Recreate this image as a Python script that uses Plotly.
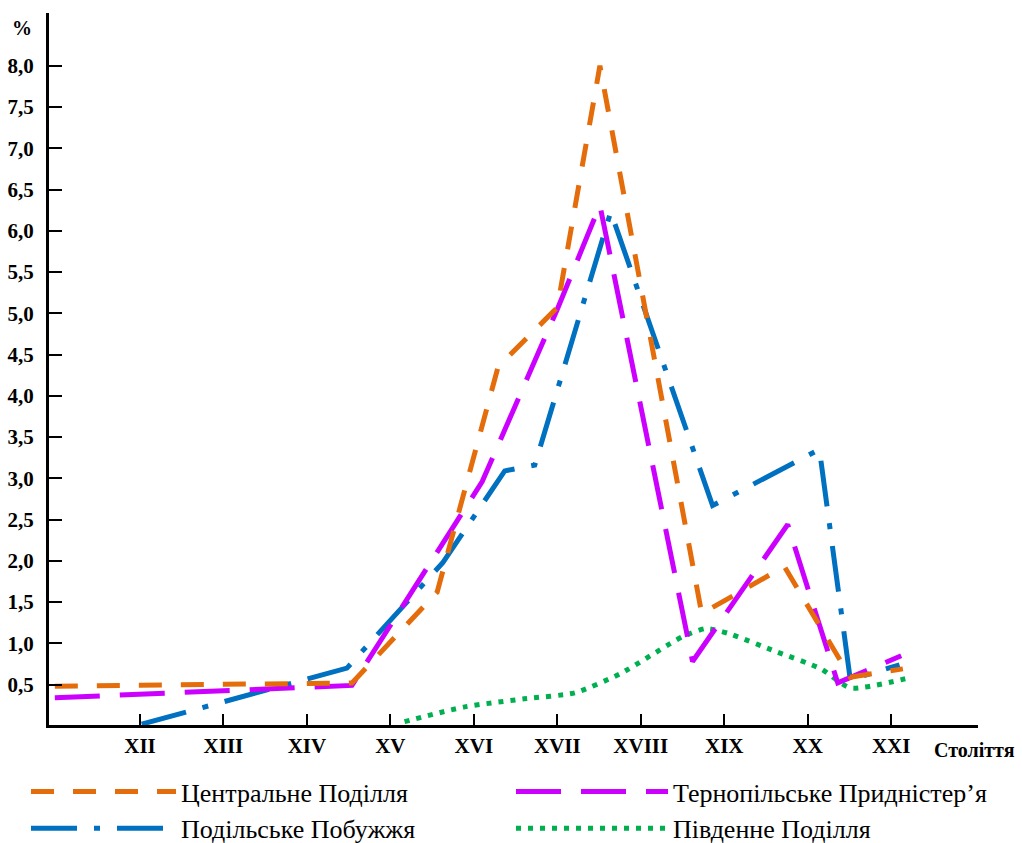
import plotly.graph_objects as go

# ---- data ----
centuries_ticks = [12, 13, 14, 15, 16, 17, 18, 19, 20, 21]
century_labels = ["XII", "XIII", "XIV", "XV", "XVI", "XVII", "XVIII", "XIX", "XX", "XXI"]
y_ticks = [0.5, 1.0, 1.5, 2.0, 2.5, 3.0, 3.5, 4.0, 4.5, 5.0, 5.5, 6.0, 6.5, 7.0, 7.5, 8.0]
y_tick_labels = ["0,5", "1,0", "1,5", "2,0", "2,5", "3,0", "3,5", "4,0", "4,5", "5,0",
                 "5,5", "6,0", "6,5", "7,0", "7,5", "8,0"]

central_x = [10.98, 14.54, 15.56, 16.29, 17.0, 17.51, 18.73, 19.72, 20.51, 21.14]
central_y = [0.48, 0.52, 1.62, 4.35, 5.07, 8.0, 1.36, 1.93, 0.59, 0.69]

ternopil_x = [10.98, 14.54, 16.1, 17.0, 17.51, 18.62, 19.76, 20.36, 21.12]
ternopil_y = [0.34, 0.49, 2.96, 5.05, 6.31, 0.78, 2.44, 0.52, 0.85]

pobuzhzhia_x = [12.02, 14.48, 15.63, 16.37, 16.73, 17.64, 18.86, 20.14, 20.51, 21.1]
pobuzhzhia_y = [0.02, 0.70, 1.98, 3.09, 3.16, 6.23, 2.67, 3.35, 0.56, 0.74]

south_x = [15.17, 15.89, 16.63, 17.21, 17.75, 18.5, 18.78, 19.05, 19.62, 20.16, 20.51, 21.25]
south_y = [0.05, 0.23, 0.33, 0.40, 0.63, 1.08, 1.18, 1.12, 0.90, 0.69, 0.46, 0.59]

names = ["Центральне Поділля", "Тернопільське Придністер’я", "Подільське Побужжя", "Південне Поділля"]
colors = ["#E46C0A", "#CC00FF", "#0070C0", "#00B050"]

fig = go.Figure()

# drawing order: green, blue, magenta, orange (orange on top)
fig.add_trace(go.Scatter(x=south_x, y=south_y, mode="lines", name=names[3],
                         line=dict(color=colors[3], width=5, dash="5px,7px", shape="spline", smoothing=0.6),
                         legend="legend2", legendrank=2))
fig.add_trace(go.Scatter(x=pobuzhzhia_x, y=pobuzhzhia_y, mode="lines", name=names[2],
                         line=dict(color=colors[2], width=5, dash="46px,17px,6px,17px"),
                         legend="legend", legendrank=2))
fig.add_trace(go.Scatter(x=ternopil_x, y=ternopil_y, mode="lines", name=names[1],
                         line=dict(color=colors[1], width=5, dash="45px,20px"),
                         legend="legend2", legendrank=1))
fig.add_trace(go.Scatter(x=central_x, y=central_y, mode="lines", name=names[0],
                         line=dict(color=colors[0], width=5, dash="23px,19px"),
                         legend="legend", legendrank=1))

W, H = 1022, 843
L, R, T, B = 49, 44, 13, 118
pw = W - L - R
ph = H - T - B

def px_x(p):
    return (p - L) / pw

def px_y(p):
    return (H - B - p) / ph

legend_font = dict(family="Liberation Serif", size=26, color="black")

fig.update_layout(
    width=W, height=H,
    margin=dict(l=L, r=R, t=T, b=B, autoexpand=False),
    plot_bgcolor="white", paper_bgcolor="white",
    showlegend=True,
    legend=dict(x=px_x(26), y=px_y(768), xanchor="left", yanchor="top",
                orientation="v", font=legend_font, itemwidth=145,
                bgcolor="rgba(0,0,0,0)", traceorder="normal", tracegroupgap=0),
    legend2=dict(x=px_x(511), y=px_y(768), xanchor="left", yanchor="top",
                 orientation="v", font=legend_font, itemwidth=152,
                 bgcolor="rgba(0,0,0,0)", traceorder="normal", tracegroupgap=0),
    xaxis=dict(range=[10.91, 22.04], tickvals=centuries_ticks, ticktext=century_labels,
               showgrid=False, zeroline=False, showline=True, linecolor="black", linewidth=3,
               ticks="inside", ticklen=11, tickwidth=2, tickcolor="black",
               tickfont=dict(family="Liberation Serif", size=21, color="black", weight="bold")),
    yaxis=dict(range=[0.01, 8.64], tickvals=y_ticks, ticktext=y_tick_labels,
               showgrid=False, zeroline=False, showline=True, linecolor="black", linewidth=3,
               ticks="inside", ticklen=13, tickwidth=2, tickcolor="black",
               ticklabelstandoff=8,
               tickfont=dict(family="Liberation Serif", size=21, color="black", weight="bold")),
    annotations=[
        dict(text="%", xref="paper", yref="paper", x=px_x(22), y=px_y(28),
             xanchor="center", yanchor="middle", showarrow=False,
             font=dict(family="Liberation Serif", size=20, color="black", weight="bold")),
        dict(text="Століття", xref="paper", yref="paper", x=px_x(932), y=px_y(750),
             xanchor="left", yanchor="middle", showarrow=False,
             font=dict(family="Liberation Serif", size=20, color="black", weight="bold")),
    ],
)

fig.write_html("out.html", config={"displayModeBar": False},
               post_script="document.body.style.margin='0';document.body.style.overflow='hidden';")
